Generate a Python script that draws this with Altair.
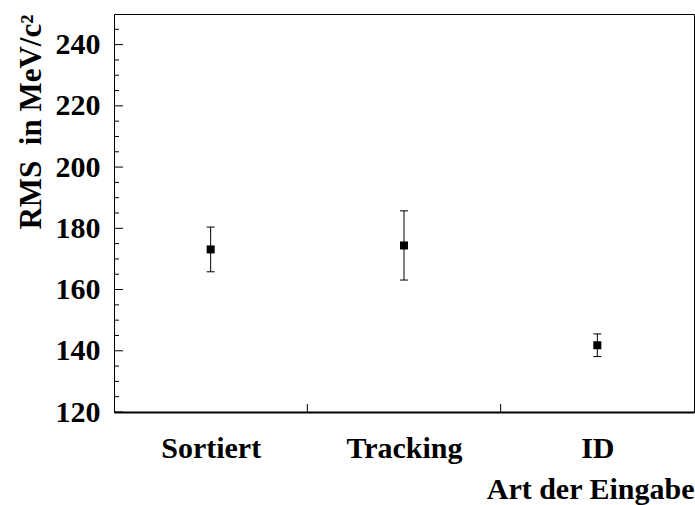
import altair as alt
import pandas as pd

# Measured RMS of the reconstruction for each input type
categories = ["Sortiert", "Tracking", "ID"]
rms = [173.1, 174.4, 141.8]
rms_err = [7.3, 11.3, 3.7]

# Axis tick values (ticks point into the frame, ROOT style)
y_major = [120, 140, 160, 180, 200, 220, 240]
y_minor = [125, 130, 135, 145, 150, 155, 165, 170, 175, 185, 190, 195,
           205, 210, 215, 225, 230, 235, 245]
x_bins = [1, 2]

FONT = "Liberation Serif"

df = pd.DataFrame({
    "pos": [i + 0.5 for i in range(len(categories))],
    "cat": categories,
    "rms": rms,
    "lo": [v - e for v, e in zip(rms, rms_err)],
    "hi": [v + e for v, e in zip(rms, rms_err)],
})

label_map = "{" + ", ".join(f"'{i + 0.5}': '{c}'" for i, c in enumerate(categories)) + "}"

xscale = alt.Scale(domain=[0, 3], nice=False, zero=False)
yscale = alt.Scale(domain=[120, 250], nice=False, zero=False)

x_axis = alt.Axis(
    values=[i + 0.5 for i in range(len(categories))],
    labelExpr=f"{label_map}[toString(datum.value)]",
    ticks=False, grid=False,
    labelFont=FONT, labelFontSize=30, labelFontWeight="bold", labelColor="black",
    labelPadding=21, labelBaseline="top",
    domainColor="black", domainWidth=2,
    title="Art der Eingabe", titleFont=FONT, titleFontSize=30, titleFontWeight="bold",
    titleColor="black", titleAlign="right", titleAnchor="end", titleBaseline="alphabetic",
    titleX=580, titleY=86,
)
y_axis = alt.Axis(
    values=y_major, ticks=False, grid=False,
    labelFont=FONT, labelFontSize=30, labelFontWeight="bold", labelColor="black",
    labelPadding=14,
    domainColor="black", domainWidth=1,
    title="RMS\u00a0\u00a0in MeV/c²", titleFont=FONT, titleFontSize=31, titleFontWeight="bold",
    titleColor="black", titleAngle=-90, titleAlign="right", titleBaseline="alphabetic",
    titleX=-74, titleY=0,
)

base = alt.Chart(df)

points = base.mark_square(size=64, filled=True, color="black", opacity=1).encode(
    x=alt.X("pos:Q", scale=xscale, axis=x_axis),
    y=alt.Y("rms:Q", scale=yscale, axis=y_axis),
)
bars = base.mark_rule(color="black", strokeWidth=1).encode(
    x="pos:Q", y="lo:Q", y2="hi:Q",
)
cap_lo = base.mark_rule(color="black", strokeWidth=1, xOffset=-4, x2Offset=4).encode(
    x="pos:Q", x2="pos:Q", y="lo:Q",
)
cap_hi = base.mark_rule(color="black", strokeWidth=1, xOffset=-4, x2Offset=4).encode(
    x="pos:Q", x2="pos:Q", y="hi:Q",
)

ymaj = alt.Chart(pd.DataFrame({"v": y_major})).mark_rule(color="black", strokeWidth=1).encode(
    y="v:Q", x=alt.value(0), x2=alt.value(9),
)
ymin = alt.Chart(pd.DataFrame({"v": y_minor})).mark_rule(color="black", strokeWidth=1).encode(
    y="v:Q", x=alt.value(0), x2=alt.value(5),
)
xtk = alt.Chart(pd.DataFrame({"v": x_bins})).mark_rule(color="black", strokeWidth=1).encode(
    x="v:Q", y=alt.value(398), y2=alt.value(390),
)

chart = alt.layer(ymaj, ymin, xtk, bars, cap_lo, cap_hi, points).properties(
    width=580, height=398,
    padding={"left": 114, "top": 14, "right": 1, "bottom": 93},
    autosize=alt.AutoSizeParams(type="none"),
    background="white",
).configure_view(stroke="black", strokeWidth=1)

chart.save("out.html", embed_options={"renderer": "svg", "actions": False})
